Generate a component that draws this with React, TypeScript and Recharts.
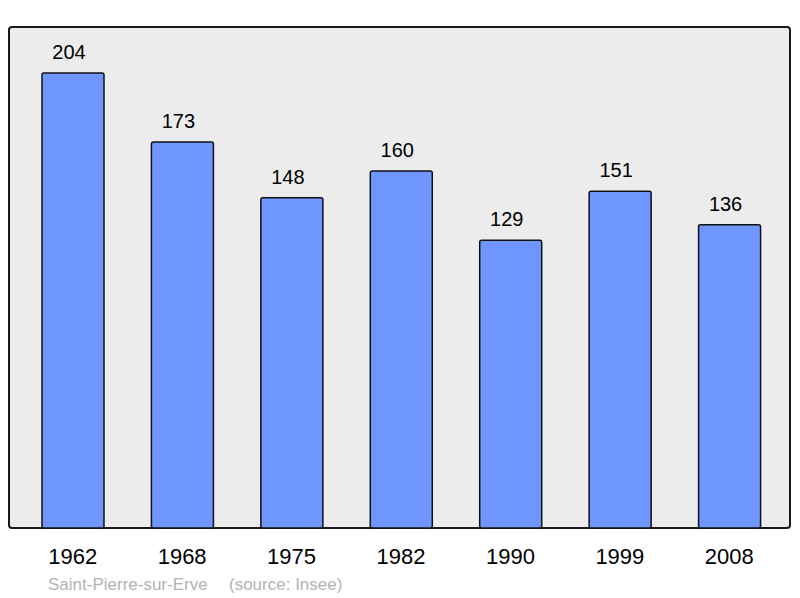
import React from "react";
import { BarChart, Bar, XAxis, YAxis, LabelList } from "recharts";

const years = ["1962", "1968", "1975", "1982", "1990", "1999", "2008"];
const population = [204, 173, 148, 160, 129, 151, 136];

const YMAX = 224.6;

const data = years.map((y, i) => ({ year: y, pop: population[i] }));

const App = () => {
  return (
    <div style={{ position: "absolute", left: 0, top: 0, width: 800, height: 598, fontFamily: "'Liberation Sans', Arial, sans-serif" }}>
      <div
        style={{
          position: "absolute",
          left: 8,
          top: 26,
          width: 783,
          height: 503,
          boxSizing: "border-box",
          border: "2px solid #1a1a1a",
          borderRadius: 4,
          background: "#ececec",
        }}
      />
      <div style={{ position: "absolute", left: 0, top: 0 }}>
        <BarChart width={800} height={598} data={data} margin={{ top: 27, right: 10, left: 9, bottom: 0 }}>
          <YAxis hide domain={[0, YMAX]} />
          <XAxis
            dataKey="year"
            height={70}
            axisLine={false}
            tickLine={false}
            tickMargin={14}
            padding={{ left: 9, right: 6 }}
            tick={{ fontSize: 22, fill: "#000", fontFamily: "'Liberation Sans', Arial, sans-serif" }}
          />
          <Bar dataKey="pop" fill="#6f96ff" stroke="#111" strokeWidth={1.5} barSize={62} radius={2} isAnimationActive={false}>
            <LabelList dataKey="pop" position="top" offset={14} dx={-4} fill="#000" fontSize={20} fontFamily="'Liberation Sans', Arial, sans-serif" />
          </Bar>
        </BarChart>
      </div>
      <div style={{ position: "absolute", left: 48, top: 575, fontSize: 17, color: "#b3b3b3", whiteSpace: "pre" }}>
        Saint-Pierre-sur-Erve
      </div>
      <div style={{ position: "absolute", left: 229, top: 575, fontSize: 17, color: "#b3b3b3", whiteSpace: "pre" }}>
        (source: Insee)
      </div>
    </div>
  );
};

export default App;
